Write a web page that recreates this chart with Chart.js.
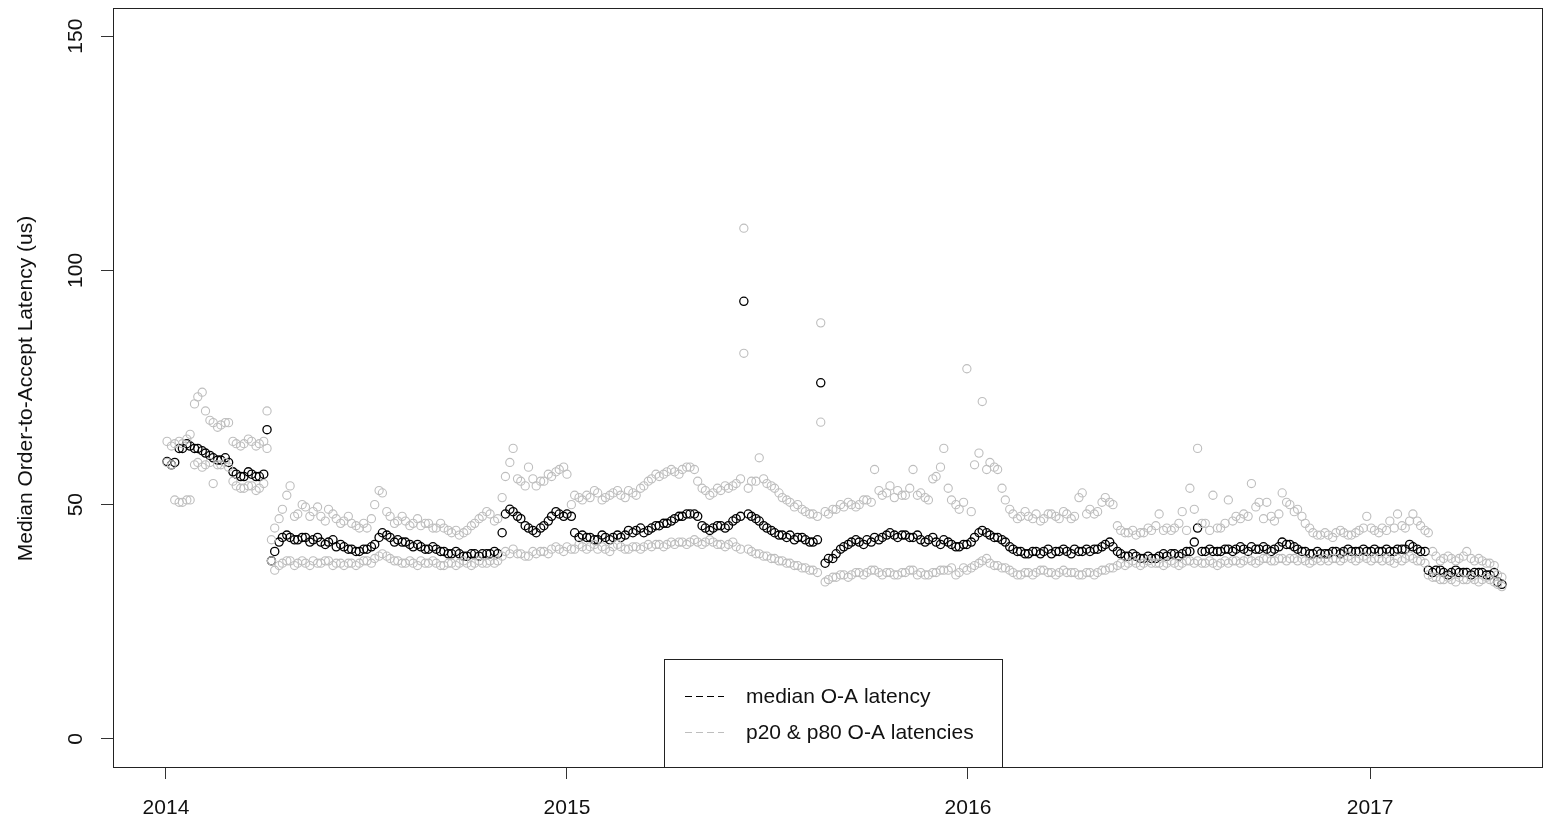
<!DOCTYPE html>
<html>
<head>
<meta charset="utf-8">
<script src="https://cdn.jsdelivr.net/npm/chart.js@4.4.1/dist/chart.umd.min.js"></script>
<style>
  html, body { margin: 0; padding: 0; background: #fff; }
  #wrap { width: 1545px; height: 819px; position: relative; }
</style>
</head>
<body>
<div id="wrap"><canvas id="c"></canvas></div>
<script>
// ---- data: two samples per week (Thursdays from 2014-01-02, and the following Mondays) ----
const startDate = '2014-01-02';
const medianThu = [
  59.2, 59, 62, 62.5, 62, 61, 60, 59.5, 59, 56.5,
  56, 56.5, 56, 66, 40, 43, 43, 42.5, 43, 42.5,
  42, 42, 41, 41, 40.5, 40, 40.5, 41.5, 44, 43,
  42.5, 42, 41, 41, 40.5, 40.5, 40, 39.5, 39.5, 39,
  39.5, 39.5, 39.5, 39.5, 48, 48.5, 47, 45, 44, 45.5,
  47.5, 48, 48, 44, 43.5, 43, 42.5, 43, 43, 43,
  44.5, 44.5, 44, 45, 45.5, 46, 47, 47.5, 48, 47.5,
  45, 45, 45.5, 45.5, 47, 93.4, 47.5, 46.5, 45, 44,
  43.5, 43.5, 43, 42.5, 42, 76, 38.5, 39.5, 41, 42,
  42, 42.5, 43, 43, 44, 43, 43.5, 43, 42.5, 42.5,
  42, 42.5, 41.5, 41, 41.5, 43, 44.5, 43.5, 43, 42,
  40.5, 40, 39.5, 40, 40, 39.5, 40, 40, 40.5, 40,
  40, 40.5, 41.5, 41, 39.5, 39, 39, 38.5, 38.5, 39,
  39, 39.5, 39.5, 40, 45, 40, 40, 40, 40.5, 40.5,
  40.5, 41, 40.5, 40.5, 40.5, 42, 41.5, 40.5, 40, 39.5,
  39.5, 39.5, 40, 40, 40, 40, 40, 40.5, 40, 40,
  40.5, 40.5, 41, 40, 36, 36, 35.5, 35.5, 35.5, 35.5,
  35.5, 35.5, 35, 33.5
];
const medianMon = [
  58.5, 62, 63, 62, 61.5, 60.5, 59.5, 60, 57, 56,
  57, 56, 56.5, 38, 42, 43.5, 42.5, 43, 42, 43,
  41.5, 42.5, 41.5, 40.5, 40, 40.5, 41, 43, 43.5, 42,
  42, 41.5, 41.5, 40.5, 41, 40, 39.5, 40, 39, 39.5,
  39, 39.5, 40, 44, 49, 47.5, 45.5, 44.5, 45, 46.5,
  48.5, 47.5, 47.5, 43, 43, 42.5, 43.5, 42.5, 43.5, 43.5,
  44, 45, 44.5, 45.5, 46, 46.5, 47.5, 48, 48, 45.5,
  44.5, 45.5, 45, 46.5, 47.5, 48, 47, 45.5, 44.5, 43.5,
  43, 42.5, 43, 42, 42.5, 37.5, 38.5, 40.5, 41.5, 42.5,
  41.5, 42, 42.5, 43.5, 43.5, 43.5, 43, 43.5, 42, 43,
  41.5, 42, 41, 41.5, 42, 44, 44, 43, 42.5, 41,
  40, 39.5, 40, 39.5, 40.5, 40, 40.5, 39.5, 40, 40.5,
  40.5, 41, 42, 40, 39, 39.5, 38.5, 39, 38.5, 39.5,
  39.5, 39, 40, 42, 40, 40.5, 40, 40.5, 40, 41,
  40, 40.5, 41, 40, 41, 41.5, 41, 40, 39.5, 40,
  39.5, 40, 39.5, 40.5, 40, 40.5, 40, 40, 40.5, 40,
  40.5, 41.5, 40.5, 40, 35.5, 36, 35, 36, 35.5, 35,
  35.5, 35, 35.5, 33
];
const p80Thu = [
  63.5, 63, 63, 65, 73, 70, 67.5, 67, 67.5, 63,
  63, 63.5, 63, 70, 45, 49, 54, 48, 49.5, 48.5,
  47.5, 49, 47, 46.5, 46, 45, 45, 50, 52.5, 47.5,
  46.5, 46.5, 46, 45.5, 46, 45, 45, 44, 43.5, 44.5,
  46, 47.5, 48, 47, 56, 62, 55, 58, 54, 55,
  56, 57.5, 56.5, 52, 51, 51.5, 52.5, 51.5, 52.5, 52,
  53, 52, 54, 55.5, 56, 57, 57, 57.5, 58, 55,
  53, 52.5, 53, 53.5, 54.5, 109, 55, 60, 54.5, 53.5,
  51.5, 50.5, 50, 48.5, 48, 88.8, 48, 49, 49.5, 50,
  50, 51, 57.5, 52, 54, 53, 52, 57.5, 52.5, 51,
  56, 62, 51, 49, 79, 58.5, 72, 59, 57.5, 51,
  48, 47.5, 47.5, 48, 47, 48, 47, 48, 47.5, 52.5,
  49, 48.5, 51.5, 50, 44.5, 44, 43.5, 44, 44.5, 48,
  45, 45, 48.5, 53.5, 62, 46, 52, 45, 51, 47.5,
  48, 54.5, 50.5, 50.5, 46.5, 52.5, 50, 49, 46, 44,
  43.5, 43.5, 44, 44, 43.5, 44.5, 47.5, 44.5, 45, 46.5,
  48, 45, 48, 45.5, 44, 39, 38.5, 38.5, 38.5, 40,
  38, 38, 37.5, 35
];
const p80Mon = [
  62.5, 63.5, 64, 71.5, 74, 68, 66.5, 67.5, 63.5, 62.5,
  64, 62.5, 63.5, 42.5, 47, 52, 47.5, 50, 47.5, 49.5,
  46.5, 48, 46, 47.5, 45.5, 46, 47, 53, 48.5, 46,
  47.5, 45.5, 47, 46, 45, 46, 44.5, 44.5, 44, 45.5,
  47, 48.5, 46.5, 51.5, 59, 55.5, 54, 55.5, 55, 56.5,
  57, 58, 50, 51.5, 52, 53, 51, 52, 53, 51.5,
  52.5, 53.5, 55, 56.5, 56.5, 57.5, 56.5, 58, 57.5, 53.5,
  52, 53.5, 54, 54, 55.5, 53.5, 55, 55.5, 54, 52.5,
  51, 49.5, 49, 48, 47.5, 48.5, 49, 50, 50.5, 49.5,
  51, 50.5, 53, 52.5, 51.5, 52, 53.5, 52, 51.5, 55.5,
  58, 53.5, 50, 50.5, 48.5, 61, 57.5, 58, 53.5, 49,
  47, 48.5, 47, 46.5, 48, 47.5, 48.5, 47, 51.5, 48,
  48, 50.5, 50.5, 45.5, 44, 44.5, 44, 45, 45.5, 44.5,
  44.5, 46, 44.5, 49, 46, 44.5, 45, 46, 46.5, 47,
  47.5, 49.5, 47, 47.5, 48, 50.5, 48.5, 47.5, 45, 43.5,
  44, 43, 44.5, 43.5, 44, 45, 45, 44, 44.5, 45,
  45.5, 46.5, 46.5, 44.5, 40, 38, 39, 38, 39, 38.5,
  38.5, 37.5, 37, 34.5
];
const p20Thu = [
  59, 51, 50.5, 51, 59, 58.5, 54.5, 58.5, 58, 54,
  53.5, 54, 53.5, 62, 36, 37.5, 38, 37.5, 37.5, 38,
  37.5, 38, 37.5, 37, 37.5, 37.5, 38, 38.5, 39.5, 38.5,
  38, 37.5, 37.5, 38, 37.5, 37.5, 37, 37.5, 37.5, 37.5,
  37.5, 37.5, 38, 38, 40, 40.5, 39.5, 39, 39.5, 40,
  40.5, 40.5, 41, 40.5, 41, 41, 40.5, 40.5, 41, 41,
  40.5, 41, 41, 41, 41.5, 41.5, 41.5, 42, 42, 42,
  42, 42, 41.5, 41.5, 41, 82.3, 40, 39.5, 39, 38.5,
  38, 37.5, 37, 36.5, 36, 67.6, 34, 34.5, 35, 35,
  35.5, 35.5, 36, 35, 35.5, 35, 35.5, 36, 35.5, 35,
  35.5, 36, 36.5, 35.5, 36, 37, 38, 37.5, 37, 36.5,
  35.5, 35, 35.5, 35.5, 36, 35.5, 35.5, 35.5, 35.5, 35,
  35.5, 35.5, 36, 36.5, 37.5, 37.5, 37.5, 37.5, 37.5, 37.5,
  37.5, 37.5, 37.5, 38, 38, 37.5, 37.5, 37.5, 37.5, 38,
  38, 38, 38, 38.5, 38, 38.5, 38.5, 38, 38, 38,
  38, 38, 38.5, 38.5, 38.5, 38.5, 38.5, 38.5, 38, 38,
  38.5, 38.5, 38.5, 38, 35, 34.5, 34, 34, 34.5, 34,
  34, 34, 34, 33
];
const p20Mon = [
  58.5, 50.5, 51, 58.5, 58, 59, 58.5, 59, 55, 53.5,
  54, 53, 54.5, 38, 37, 38, 37, 38, 37, 37.5,
  38, 37, 37.5, 37.5, 37, 38, 37.5, 39, 39, 38,
  37.5, 38, 37, 37.5, 38, 37, 37.5, 37, 38, 37,
  38, 37.5, 37.5, 39, 39.5, 39.5, 39, 40, 40, 39.5,
  41, 40, 40.5, 41.5, 40.5, 41.5, 41, 40, 41.5, 40.5,
  41, 40.5, 41.5, 41.5, 41, 42, 42, 41.5, 42.5, 41.5,
  42.5, 41.5, 41, 42, 40.5, 40.5, 39.5, 39, 38.5, 38,
  37.5, 37, 36.5, 36, 35.5, 33.5, 34.5, 35, 34.5, 35.5,
  35, 36, 35.5, 35.5, 35, 35.5, 36, 35, 35, 35.5,
  36, 36, 35, 36.5, 36.5, 37.5, 38.5, 37, 36.5, 36,
  35, 35.5, 35, 36, 35.5, 35, 36, 35.5, 35, 35.5,
  35, 36, 36.5, 37, 37, 38, 37, 38, 37.5, 37,
  38, 37, 38, 37.5, 37.5, 38, 37, 38, 38, 37.5,
  38.5, 37.5, 38.5, 38, 38.5, 38, 38.5, 38.5, 37.5, 38.5,
  38.5, 38.5, 38, 39, 38, 39, 38, 38.5, 38.5, 37.5,
  38, 39, 38, 37.5, 34.5, 34, 34.5, 33.5, 34, 34.5,
  33.5, 34.5, 33.5, 32.5
];
const yearLabels = ['2014', '2015', '2016', '2017'];
const yTickValues = [0, 50, 100, 150];
const legendLabels = ['median O-A latency', 'p20 & p80 O-A latencies'];
const yTitle = 'Median Order-to-Accept Latency (us)';

// ---- helpers ----
const DAY = 86400000;
const t0 = Date.parse('2014-01-01T00:00:00Z');
function dayOf(s) { return (Date.parse(s + 'T00:00:00Z') - t0) / DAY; }
const tStart = Date.parse(startDate + 'T00:00:00Z');
const thuDates = medianThu.map((_, i) => new Date(tStart + i * 7 * DAY).toISOString().slice(0, 10));
const monDates = medianMon.map((_, i) => new Date(tStart + (i * 7 + 4) * DAY).toISOString().slice(0, 10));
function toPts(thu, mon) {
  const pts = [];
  thu.forEach((v, i) => {
    pts.push({ x: dayOf(thuDates[i]), y: v });
    pts.push({ x: dayOf(monDates[i]), y: mon[i] });
  });
  return pts;
}
const yearTickDays = yearLabels.map(y => dayOf(y + '-01-01'));

const FONT = '21px "Liberation Sans", Arial, sans-serif';
const TXT = '#111';
const GRAY = '#bebebe';

const decor = {
  id: 'decor',
  afterDraw(chart) {
    const ctx = chart.ctx, a = chart.chartArea;
    const xs = chart.scales.x, ys = chart.scales.y;
    ctx.save();
    ctx.strokeStyle = '#222'; ctx.lineWidth = 1; ctx.setLineDash([]);
    ctx.strokeRect(Math.round(a.left) + 0.5, Math.round(a.top) + 0.5,
                   Math.round(a.right - a.left) - 1, Math.round(a.bottom - a.top));
    ctx.fillStyle = TXT; ctx.font = FONT;
    ctx.textAlign = 'center'; ctx.textBaseline = 'alphabetic';
    yearLabels.forEach((lab, i) => ctx.fillText(lab, xs.getPixelForValue(yearTickDays[i]), 814));
    yTickValues.forEach(v => {
      ctx.save();
      ctx.translate(82, ys.getPixelForValue(v));
      ctx.rotate(-Math.PI / 2);
      ctx.fillText(String(v), 0, 0);
      ctx.restore();
    });
    ctx.save();
    ctx.translate(32, 388.5);
    ctx.rotate(-Math.PI / 2);
    ctx.fillText(yTitle, 0, 0);
    ctx.restore();
    // legend
    ctx.fillStyle = '#fff';
    ctx.fillRect(664.5, 659.5, 338, 108);
    ctx.strokeStyle = '#222';
    ctx.strokeRect(664.5, 659.5, 338, 108);
    ctx.setLineDash([7, 4]);
    ctx.strokeStyle = '#000';
    ctx.beginPath(); ctx.moveTo(685, 696.5); ctx.lineTo(724, 696.5); ctx.stroke();
    ctx.strokeStyle = GRAY;
    ctx.beginPath(); ctx.moveTo(685, 732.5); ctx.lineTo(724, 732.5); ctx.stroke();
    ctx.setLineDash([]);
    ctx.fillStyle = TXT; ctx.textAlign = 'left';
    ctx.fillText(legendLabels[0], 746, 703);
    ctx.fillText(legendLabels[1], 746, 739);
    ctx.restore();
  }
};

const ptStyle = (color, bw) => ({
  borderColor: color, backgroundColor: 'rgba(0,0,0,0)',
  pointRadius: 4.1, pointBorderWidth: bw, pointHoverRadius: 4.1
});

new Chart(document.getElementById('c'), {
  type: 'scatter',
  data: {
    datasets: [
      Object.assign({ label: 'p20', data: toPts(p20Thu, p20Mon) }, ptStyle(GRAY, 1.1)),
      Object.assign({ label: 'p80', data: toPts(p80Thu, p80Mon) }, ptStyle(GRAY, 1.1)),
      Object.assign({ label: 'median', data: toPts(medianThu, medianMon) }, ptStyle('#000', 1.3))
    ]
  },
  options: {
    responsive: true,
    maintainAspectRatio: false,
    animation: false,
    events: [],
    layout: { autoPadding: false, padding: { left: 0, right: 2, top: 8, bottom: 0 } },
    plugins: { legend: { display: false }, tooltip: { enabled: false } },
    scales: {
      x: {
        type: 'linear',
        min: -48.2, max: 1253.4,
        afterBuildTicks: s => { s.ticks = yearTickDays.map(v => ({ value: v })); },
        afterFit: s => { s.height = 52; },
        ticks: { display: false },
        border: { display: false },
        grid: { drawOnChartArea: false, drawTicks: true, tickLength: 12, tickColor: '#333', tickWidth: 1 }
      },
      y: {
        type: 'linear',
        min: -6, max: 156,
        afterBuildTicks: s => { s.ticks = yTickValues.map(v => ({ value: v })); },
        afterFit: s => { s.width = 113; },
        ticks: { display: false },
        border: { display: false },
        grid: { drawOnChartArea: false, drawTicks: true, tickLength: 12, tickColor: '#333', tickWidth: 1 }
      }
    }
  },
  plugins: [decor]
});
</script>
</body>
</html>
